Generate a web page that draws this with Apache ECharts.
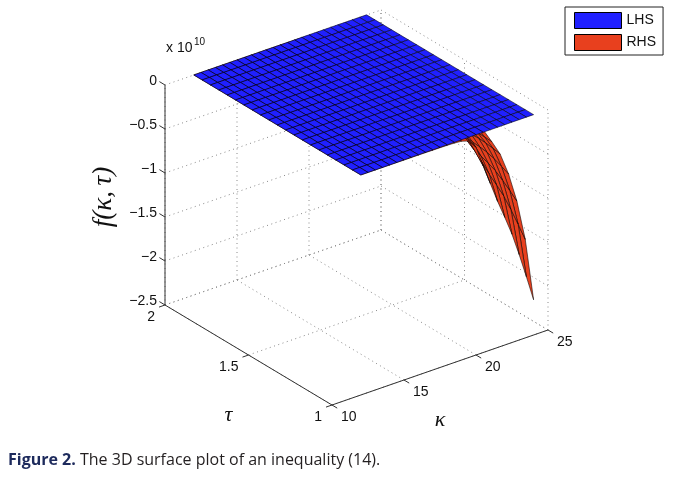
<!DOCTYPE html>
<html><head><meta charset="utf-8">
<script src="https://cdn.jsdelivr.net/npm/echarts@6/dist/echarts.min.js"></script>
<style>html,body{margin:0;padding:0;background:#fff}#c{width:680px;height:479px}</style>
</head><body><div id="c"></div>
<script>
// ---------------- data (f values in units of 1e10) ----------------
const kappa = [12,12.5,13,13.5,14,14.5,15,15.5,16,16.5,17,17.5,18,18.5,19,19.5,20,20.5,21,21.5,22,22.5,23,23.5,24];
const tau = [1,1.05,1.1,1.15,1.2,1.25,1.3,1.35,1.4,1.45,1.5,1.55,1.6,1.65,1.7,1.75,1.8,1.85,1.9,1.95,2];

const lhs = [
 [0.001,0.001,0.001,0.001,0.001,0.001,0.002,0.002,0.002,0.002,0.002,0.002,0.002,0.002,0.003,0.003,0.003,0.003,0.003,0.003,0.003,0.004,0.004,0.004,0.004],
 [0.001,0.001,0.001,0.001,0.001,0.001,0.002,0.002,0.002,0.002,0.002,0.002,0.002,0.002,0.003,0.003,0.003,0.003,0.003,0.003,0.003,0.004,0.004,0.004,0.004],
 [0.001,0.001,0.001,0.001,0.001,0.001,0.002,0.002,0.002,0.002,0.002,0.002,0.002,0.002,0.003,0.003,0.003,0.003,0.003,0.003,0.003,0.003,0.004,0.004,0.004],
 [0.001,0.001,0.001,0.001,0.001,0.001,0.001,0.002,0.002,0.002,0.002,0.002,0.002,0.002,0.002,0.003,0.003,0.003,0.003,0.003,0.003,0.003,0.003,0.004,0.004],
 [0.001,0.001,0.001,0.001,0.001,0.001,0.001,0.002,0.002,0.002,0.002,0.002,0.002,0.002,0.002,0.003,0.003,0.003,0.003,0.003,0.003,0.003,0.003,0.003,0.004],
 [0.001,0.001,0.001,0.001,0.001,0.001,0.001,0.001,0.002,0.002,0.002,0.002,0.002,0.002,0.002,0.002,0.003,0.003,0.003,0.003,0.003,0.003,0.003,0.003,0.003],
 [0.001,0.001,0.001,0.001,0.001,0.001,0.001,0.001,0.002,0.002,0.002,0.002,0.002,0.002,0.002,0.002,0.003,0.003,0.003,0.003,0.003,0.003,0.003,0.003,0.003],
 [0.001,0.001,0.001,0.001,0.001,0.001,0.001,0.001,0.001,0.002,0.002,0.002,0.002,0.002,0.002,0.002,0.002,0.003,0.003,0.003,0.003,0.003,0.003,0.003,0.003],
 [0.001,0.001,0.001,0.001,0.001,0.001,0.001,0.001,0.001,0.002,0.002,0.002,0.002,0.002,0.002,0.002,0.002,0.002,0.003,0.003,0.003,0.003,0.003,0.003,0.003],
 [0.001,0.001,0.001,0.001,0.001,0.001,0.001,0.001,0.001,0.001,0.002,0.002,0.002,0.002,0.002,0.002,0.002,0.002,0.002,0.003,0.003,0.003,0.003,0.003,0.003],
 [0.001,0.001,0.001,0.001,0.001,0.001,0.001,0.001,0.001,0.001,0.002,0.002,0.002,0.002,0.002,0.002,0.002,0.002,0.002,0.002,0.003,0.003,0.003,0.003,0.003],
 [0.001,0.001,0.001,0.001,0.001,0.001,0.001,0.001,0.001,0.001,0.001,0.002,0.002,0.002,0.002,0.002,0.002,0.002,0.002,0.002,0.002,0.003,0.003,0.003,0.003],
 [0.001,0.001,0.001,0.001,0.001,0.001,0.001,0.001,0.001,0.001,0.001,0.002,0.002,0.002,0.002,0.002,0.002,0.002,0.002,0.002,0.002,0.002,0.003,0.003,0.003],
 [0.001,0.001,0.001,0.001,0.001,0.001,0.001,0.001,0.001,0.001,0.001,0.001,0.002,0.002,0.002,0.002,0.002,0.002,0.002,0.002,0.002,0.002,0.002,0.003,0.003],
 [0.001,0.001,0.001,0.001,0.001,0.001,0.001,0.001,0.001,0.001,0.001,0.001,0.002,0.002,0.002,0.002,0.002,0.002,0.002,0.002,0.002,0.002,0.002,0.002,0.003],
 [0.001,0.001,0.001,0.001,0.001,0.001,0.001,0.001,0.001,0.001,0.001,0.001,0.001,0.002,0.002,0.002,0.002,0.002,0.002,0.002,0.002,0.002,0.002,0.002,0.002],
 [0.001,0.001,0.001,0.001,0.001,0.001,0.001,0.001,0.001,0.001,0.001,0.001,0.001,0.002,0.002,0.002,0.002,0.002,0.002,0.002,0.002,0.002,0.002,0.002,0.002],
 [0.001,0.001,0.001,0.001,0.001,0.001,0.001,0.001,0.001,0.001,0.001,0.001,0.001,0.001,0.002,0.002,0.002,0.002,0.002,0.002,0.002,0.002,0.002,0.002,0.002],
 [0.001,0.001,0.001,0.001,0.001,0.001,0.001,0.001,0.001,0.001,0.001,0.001,0.001,0.001,0.002,0.002,0.002,0.002,0.002,0.002,0.002,0.002,0.002,0.002,0.002],
 [0.001,0.001,0.001,0.001,0.001,0.001,0.001,0.001,0.001,0.001,0.001,0.001,0.001,0.001,0.001,0.002,0.002,0.002,0.002,0.002,0.002,0.002,0.002,0.002,0.002],
 [0.001,0.001,0.001,0.001,0.001,0.001,0.001,0.001,0.001,0.001,0.001,0.001,0.001,0.001,0.001,0.002,0.002,0.002,0.002,0.002,0.002,0.002,0.002,0.002,0.002]
];

const rhs = [
 [0,0,0,0,0,0,-0.001,-0.001,-0.001,-0.001,-0.002,-0.003,-0.004,-0.007,-0.014,-0.04,-0.14,-0.38,-0.61,-0.84,-1.05,-1.27,-1.53,-1.81,-2.10],
 [0,0,0,0,0,0,-0.001,-0.001,-0.001,-0.001,-0.001,-0.002,-0.003,-0.005,-0.010,-0.028,-0.098,-0.266,-0.427,-0.588,-0.735,-0.889,-1.071,-1.267,-1.47],
 [0,0,0,0,0,0,0,0,-0.001,-0.001,-0.001,-0.002,-0.002,-0.004,-0.007,-0.021,-0.073,-0.198,-0.317,-0.437,-0.546,-0.660,-0.796,-0.941,-1.092],
 [0,0,0,0,0,0,0,0,0,0,-0.001,-0.001,-0.002,-0.003,-0.006,-0.016,-0.056,-0.152,-0.244,-0.336,-0.420,-0.508,-0.612,-0.724,-0.840],
 [0,0,0,0,0,0,0,0,0,0,-0.001,-0.001,-0.001,-0.002,-0.004,-0.013,-0.045,-0.122,-0.195,-0.269,-0.336,-0.406,-0.490,-0.579,-0.672],
 [0,0,0,0,0,0,0,0,0,0,-0.001,-0.001,-0.001,-0.002,-0.004,-0.011,-0.039,-0.106,-0.171,-0.235,-0.294,-0.356,-0.428,-0.507,-0.588],
 [0,0,0,0,0,0,0,0,0,0,0,-0.001,-0.001,-0.002,-0.003,-0.010,-0.034,-0.093,-0.149,-0.206,-0.257,-0.311,-0.375,-0.443,-0.515],
 [0,0,0,0,0,0,0,0,0,0,0,-0.001,-0.001,-0.002,-0.003,-0.009,-0.030,-0.082,-0.131,-0.181,-0.226,-0.273,-0.329,-0.389,-0.452],
 [0,0,0,0,0,0,0,0,0,0,0,-0.001,-0.001,-0.001,-0.003,-0.008,-0.027,-0.072,-0.116,-0.160,-0.200,-0.241,-0.291,-0.344,-0.399],
 [0,0,0,0,0,0,0,0,0,0,0,0,-0.001,-0.001,-0.002,-0.007,-0.024,-0.065,-0.104,-0.143,-0.179,-0.216,-0.260,-0.308,-0.357],
 [0,0,0,0,0,0,0,0,0,0,0,0,-0.001,-0.001,-0.002,-0.006,-0.021,-0.057,-0.092,-0.126,-0.158,-0.191,-0.230,-0.272,-0.315],
 [0,0,0,0,0,0,0,0,0,0,0,0,-0.001,-0.001,-0.002,-0.005,-0.019,-0.051,-0.082,-0.113,-0.142,-0.171,-0.207,-0.244,-0.284],
 [0,0,0,0,0,0,0,0,0,0,0,0,-0.001,-0.001,-0.002,-0.005,-0.017,-0.046,-0.073,-0.101,-0.126,-0.152,-0.184,-0.217,-0.252],
 [0,0,0,0,0,0,0,0,0,0,0,0,-0.001,-0.001,-0.002,-0.004,-0.015,-0.041,-0.066,-0.091,-0.113,-0.137,-0.165,-0.195,-0.227],
 [0,0,0,0,0,0,0,0,0,0,0,0,0,-0.001,-0.001,-0.004,-0.014,-0.037,-0.059,-0.081,-0.102,-0.123,-0.148,-0.176,-0.204],
 [0,0,0,0,0,0,0,0,0,0,0,0,0,-0.001,-0.001,-0.004,-0.012,-0.033,-0.054,-0.074,-0.092,-0.112,-0.135,-0.159,-0.185],
 [0,0,0,0,0,0,0,0,0,0,0,0,0,-0.001,-0.001,-0.003,-0.011,-0.030,-0.049,-0.067,-0.084,-0.102,-0.122,-0.145,-0.168],
 [0,0,0,0,0,0,0,0,0,0,0,0,0,-0.001,-0.001,-0.003,-0.010,-0.027,-0.044,-0.060,-0.076,-0.091,-0.110,-0.130,-0.151],
 [0,0,0,0,0,0,0,0,0,0,0,0,0,-0.001,-0.001,-0.003,-0.009,-0.025,-0.040,-0.055,-0.069,-0.084,-0.101,-0.119,-0.139],
 [0,0,0,0,0,0,0,0,0,0,0,0,0,-0.001,-0.001,-0.002,-0.008,-0.023,-0.037,-0.050,-0.063,-0.076,-0.092,-0.109,-0.126],
 [0,0,0,0,0,0,0,0,0,0,0,0,0,-0.001,-0.001,-0.002,-0.008,-0.021,-0.034,-0.046,-0.058,-0.070,-0.084,-0.100,-0.116]
];

const kappaTicks = [10,15,20,25];
const kappaTickLabels = ['10','15','20','25'];
const tauTicks = [1,1.5,2];
const tauTickLabels = ['1','1.5','2'];
const fTicks = [0,-0.5,-1,-1.5,-2,-2.5];
const fTickLabels = ['0','\u22120.5','\u22121','\u22121.5','\u22122','\u22122.5'];
const kappaRange = [10,25], tauRange = [1,2], fRange = [-2.5,0];
const seriesNames = ['LHS','RHS'];
const exponentText = '10';
const captionBold = 'Figure 2.';
const captionText = ' The 3D surface plot of an inequality (14).';

// ---------------- view (orthographic projection of the axes box) ----------------
const VIEW = {ox:332, oy:405, u:[216,-75], v:[-167,-100], w:[0,-220]};
const DEPTH = [VIEW.v[0]*VIEW.w[1]-VIEW.w[0]*VIEW.v[1], VIEW.w[0]*VIEW.u[1]-VIEW.u[0]*VIEW.w[1], VIEW.u[0]*VIEW.v[1]-VIEW.v[0]*VIEW.u[1]];
function norm(k,t,f){
  return [(k-kappaRange[0])/(kappaRange[1]-kappaRange[0]),(t-tauRange[0])/(tauRange[1]-tauRange[0]),(f-fRange[0])/(fRange[1]-fRange[0])];
}
function proj(k,t,f){
  const [a,b,c]=norm(k,t,f);
  return [VIEW.ox+a*VIEW.u[0]+b*VIEW.v[0]+c*VIEW.w[0], VIEW.oy+a*VIEW.u[1]+b*VIEW.v[1]+c*VIEW.w[1]];
}
function depth(k,t,f){ const [a,b,c]=norm(k,t,f); return a*DEPTH[0]+b*DEPTH[1]+c*DEPTH[2]; }

function buildQuads(Z){
  const q=[];
  for(let j=0;j<tau.length-1;j++) for(let i=0;i<kappa.length-1;i++){
    const c=[[i,j],[i+1,j],[i+1,j+1],[i,j+1]];
    let d=0; const pts=c.map(([ii,jj])=>{ d+=depth(kappa[ii],tau[jj],Z[jj][ii]); return proj(kappa[ii],tau[jj],Z[jj][ii]); });
    q.push({pts, d:d/4});
  }
  q.sort((a,b)=>b.d-a.d);
  return q;
}

const COLORS = {LHS:'#2020ff', RHS:'#e8401e'};
function surfaceSeries(name, Z, zLevel){
  const quads=buildQuads(Z);
  return {
    type:'custom', name, coordinateSystem:'cartesian2d', silent:true, clip:false, z:zLevel,
    itemStyle:{color:COLORS[name]},
    data: quads.map(q=>[q.pts[0][0], q.pts[0][1]]),
    renderItem(params, api){
      const q=quads[params.dataIndex];
      return {type:'polygon', z2:params.dataIndex, shape:{points:q.pts.map(p=>api.coord(p))},
        style:{fill:COLORS[name], stroke:'#000', lineWidth:0.55}};
    }
  };
}

// grid (dotted) lines on the back walls and floor
const gridSegs=[];
kappaTicks.forEach(k=>{ gridSegs.push([k,2,fRange[0],k,2,fRange[1]]); gridSegs.push([k,1,fRange[0],k,2,fRange[0]]); });
tauTicks.forEach(t=>{ gridSegs.push([25,t,fRange[0],25,t,fRange[1]]); gridSegs.push([10,t,fRange[0],25,t,fRange[0]]); });
fTicks.forEach(f=>{ gridSegs.push([10,2,f,25,2,f]); gridSegs.push([25,1,f,25,2,f]); });

// solid axis lines
const axisSegs=[
  [10,2,fRange[0],10,2,fRange[1]],
  [10,1,fRange[0],10,2,fRange[0]],
  [10,1,fRange[0],25,1,fRange[0]]
];
function lineSeries(segs, style, zLevel){
  return {type:'custom', coordinateSystem:'cartesian2d', silent:true, clip:false, z:zLevel,
    data: segs.map(s=>[s[0],s[1]]),
    renderItem(params, api){
      const s=segs[params.dataIndex];
      const p1=api.coord(proj(s[0],s[1],s[2])), p2=api.coord(proj(s[3],s[4],s[5]));
      return {type:'line', shape:{x1:p1[0],y1:p1[1],x2:p2[0],y2:p2[1]}, style};
    }};
}

// tick marks (pixel directions along box edges)
const tickMarks=[];
fTicks.forEach(f=>tickMarks.push({p:proj(10,2,f), d:[-5.6,-3.4]}));
tauTicks.forEach(t=>tickMarks.push({p:proj(10,t,fRange[0]), d:[-6,2.1]}));
kappaTicks.forEach(k=>tickMarks.push({p:proj(k,1,fRange[0]), d:[5.2,3.1]}));

// text labels
const FONT='"Liberation Sans", Arial, sans-serif';
const labels=[];
fTicks.forEach((f,i)=>{ const p=proj(10,2,f); labels.push({p, dx:-8, dy:-3.5, text:fTickLabels[i], align:'right', size:14}); });
tauTicks.forEach((t,i)=>{ const p=proj(10,t,fRange[0]); labels.push({p, dx:-10, dy:12, text:tauTickLabels[i], align:'right', size:14}); });
kappaTicks.forEach((k,i)=>{ const p=proj(k,1,fRange[0]); labels.push({p, dx:9, dy:12.5, text:kappaTickLabels[i], align:'left', size:14}); });
labels.push({p:proj(10,2,fRange[1]), dx:1, dy:-37, text:'x 10', align:'left', size:14});
labels.push({p:proj(10,2,fRange[1]), dx:29, dy:-43, text:exponentText, align:'left', size:10});
labels.push({p:proj(10,1.5,fRange[0]), dx:-20, dy:60, text:'\u03C4', align:'center', size:22, serif:true});
labels.push({p:proj(17.5,1,fRange[0]), dx:0, dy:53, text:'\u03BA', align:'center', size:22, serif:true});
labels.push({p:proj(10,2,-1.25), dx:-61, dy:2, text:'f(\u03BA,\u2009\u03C4)', align:'center', size:27, serif:true, rot:Math.PI/2});

const labelSeries={type:'custom', coordinateSystem:'cartesian2d', silent:true, clip:false, z:10,
  data: labels.map(l=>[l.p[0],l.p[1]]),
  renderItem(params, api){
    const l=labels[params.dataIndex]; const c=api.coord(l.p);
    return {type:'text', x:c[0]+l.dx, y:c[1]+l.dy, rotation:l.rot||0,
      style:{text:l.text, fill:'#111', fontSize:l.size,
        fontFamily: l.serif?'"Liberation Serif", "DejaVu Serif", serif':FONT,
        fontStyle: l.serif?'italic':'normal',
        align:l.align, verticalAlign:'middle'}};
  }};

const tickSeries={type:'custom', coordinateSystem:'cartesian2d', silent:true, clip:false, z:3,
  data: tickMarks.map(t=>[t.p[0],t.p[1]]),
  renderItem(params, api){
    const t=tickMarks[params.dataIndex]; const c=api.coord(t.p);
    return {type:'line', shape:{x1:c[0],y1:c[1],x2:c[0]+t.d[0],y2:c[1]+t.d[1]}, style:{stroke:'#333',lineWidth:1}};
  }};

const chart=echarts.init(document.getElementById('c'),null,{renderer:'canvas'});
chart.setOption({
  animation:false,
  backgroundColor:'#fff',
  grid:{left:0,right:0,top:0,bottom:0},
  xAxis:{type:'value',min:0,max:680,show:false},
  yAxis:{type:'value',min:0,max:479,inverse:true,show:false},
  legend:{left:565, top:7, orient:'vertical', itemWidth:47, itemHeight:16, itemGap:5, z:20,
    padding:[5,7,4,9], borderColor:'#222', borderWidth:1, backgroundColor:'#fff', selectedMode:false,
    textStyle:{fontSize:14, fontFamily:FONT, color:'#111'},
    data:seriesNames.map(n=>({name:n, icon:'rect', itemStyle:{color:COLORS[n], borderColor:'#000', borderWidth:1}}))},
  graphic:[{type:'text', left:8, top:452,
    style:{text:'{b|'+captionBold+'}'+captionText, font:'16px "Open Sans", sans-serif', fill:'#231f20',
      rich:{b:{fontWeight:'bold', fill:'#1d2a5c', fontSize:16, fontFamily:'"Open Sans", sans-serif'}}}}],
  series:[
    lineSeries(gridSegs,{stroke:'#8a8a8a', lineWidth:1, lineDash:[1,3.5]}, 1),
    lineSeries(axisSegs,{stroke:'#333', lineWidth:1}, 2),
    tickSeries,
    surfaceSeries('RHS', rhs, 4),
    surfaceSeries('LHS', lhs, 5),
    labelSeries
  ]
});
</script></body></html>
